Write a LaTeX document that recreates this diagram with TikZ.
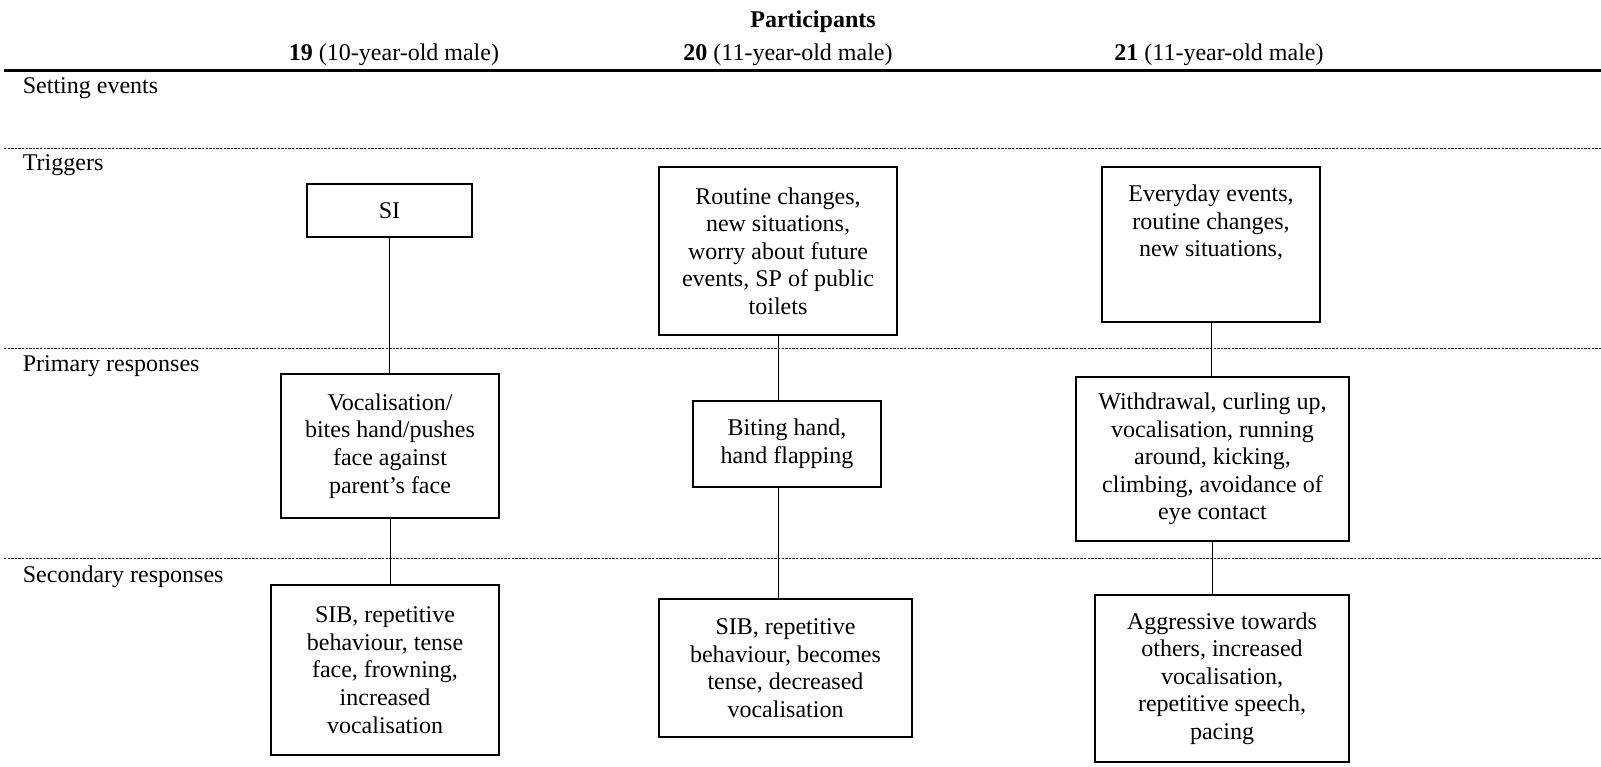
\documentclass[tikz,border=0pt]{standalone}
\usepackage{fontspec}
\setmainfont{Liberation Serif}
\begin{document}
\begin{tikzpicture}[x = 0.5pt, y = -0.5pt,
        every node/.style = {font = \fontsize{12}{13.8}\selectfont},
        box/.style = {draw, line width = 0.75pt, align = center, inner sep = 3pt},
        link/.style = {line width = 0.5pt},
        sep/.style = {line width = 0.4pt, black!85, dash pattern = on 1.2pt off 0.6pt}]
        \useasboundingbox (0,0) rectangle (1601,766);
        % header
        \node (part) at (813,21.5) {\textbf{Participants}};
        \node (head19) at (394,55) {\textbf{19} (10-year-old male)};
        \node (head20) at (788,55) {\textbf{20} (11-year-old male)};
        \node (head21) at (1219,55) {\textbf{21} (11-year-old male)};
        \draw[line width = 1.1pt] (4,70.5) -- (1601,70.5);
        \foreach \y in {148, 348, 558.5}
            \draw[sep] (4,\y) -- (1601,\y);
        \foreach \y/\txt in {88.5/Setting events, 165.5/Triggers, 366/Primary responses, 576.5/Secondary responses}
            \node[anchor = west, inner sep = 0pt] at (22.5,\y) {\txt};
        % triggers
        \node[box, minimum width = 82.5pt, minimum height = 26.5pt] (trig19) at (389.5,210.5) {SI};
        \node[box, minimum width = 119pt, minimum height = 84pt] (trig20) at (778,251) {Routine changes,\\ new situations,\\ worry about future\\ events, SP of public\\ toilets};
        \node[box, minimum width = 109pt, minimum height = 77.5pt] (trig21) at (1211,244.5) {Everyday events,\\ routine changes,\\ new situations,\\[10pt]\mbox{}};
        % primary responses
        \node[box, minimum width = 109pt, minimum height = 72pt] (prim19) at (390,446) {Vocalisation/\\ bites hand/pushes\\ face against\\ parent’s face};
        \node[box, minimum width = 94pt, minimum height = 43pt] (prim20) at (787,444) {Biting hand,\\ hand flapping};
        \node[box, minimum width = 136.5pt, minimum height = 82pt] (prim21) at (1212.5,459) {Withdrawal, curling up,\\ vocalisation, running\\ around, kicking,\\ climbing, avoidance of\\ eye contact};
        % secondary responses
        \node[box, minimum width = 114pt, minimum height = 85pt] (sec19) at (385,670) {SIB, repetitive\\ behaviour, tense\\ face, frowning,\\ increased\\ vocalisation};
        \node[box, minimum width = 126.5pt, minimum height = 69pt] (sec20) at (785.5,668) {SIB, repetitive\\ behaviour, becomes\\ tense, decreased\\ vocalisation};
        \node[box, minimum width = 127pt, minimum height = 83.5pt] (sec21) at (1222,678.5) {Aggressive towards\\ others, increased\\ vocalisation,\\ repetitive speech,\\ pacing};
        % links
        \draw[link] (trig19.south) -- (trig19.south |- prim19.north);
        \draw[link] (prim19.south) -- (prim19.south |- sec19.north);
        \draw[link] (trig20.south) -- (trig20.south |- prim20.north);
        \draw[link] (trig20.south |- prim20.south) -- (trig20.south |- sec20.north);
        \draw[link] (trig21.south) -- (trig21.south |- prim21.north);
        \draw[link] (prim21.south) -- (prim21.south |- sec21.north);
\end{tikzpicture}
\end{document}
